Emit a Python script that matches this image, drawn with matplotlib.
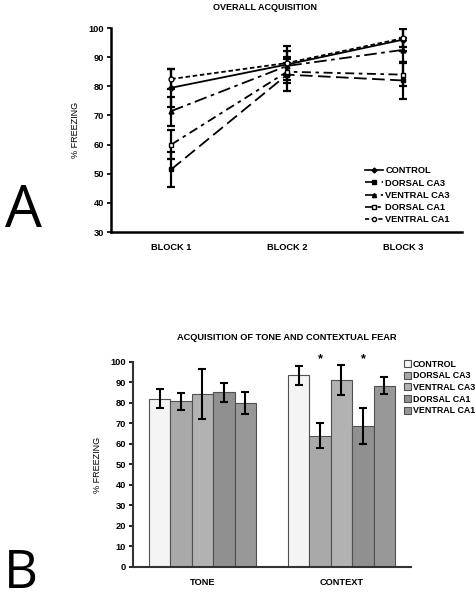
import matplotlib.pyplot as plt
from matplotlib.lines import Line2D
import numpy as np

plt.rcParams['font.family'] = ['Liberation Sans', 'DejaVu Sans']
plt.rcParams['font.weight'] = 'bold'

groups = ["CONTROL", "DORSAL CA3", "VENTRAL CA3", "DORSAL CA1", "VENTRAL CA1"]

# overall acquisition (blocks 1-3)
blocks = ["BLOCK 1", "BLOCK 2", "BLOCK 3"]
acq_mean = {
    "CONTROL":     [79.5, 87.5, 96.0],
    "DORSAL CA3":  [51.5, 84.0, 82.0],
    "VENTRAL CA3": [71.5, 87.0, 92.5],
    "DORSAL CA1":  [60.0, 85.0, 84.0],
    "VENTRAL CA1": [82.5, 88.0, 96.5],
}
acq_err = {
    "CONTROL":     [6.5, 6.5, 4.0],
    "DORSAL CA3":  [6.0, 5.5, 6.5],
    "VENTRAL CA3": [5.0, 3.0, 4.0],
    "DORSAL CA1":  [5.0, 3.0, 4.0],
    "VENTRAL CA1": [3.5, 4.0, 3.0],
}

# tone / context
conditions = ["TONE", "CONTEXT"]
fear_mean = {
    "CONTROL":     [82.0, 93.5],
    "DORSAL CA3":  [80.8, 64.0],
    "VENTRAL CA3": [84.3, 91.2],
    "DORSAL CA1":  [85.3, 68.7],
    "VENTRAL CA1": [79.8, 88.5],
}
fear_err = {
    "CONTROL":     [4.6, 4.5],
    "DORSAL CA3":  [4.2, 6.0],
    "VENTRAL CA3": [12.3, 7.2],
    "DORSAL CA1":  [4.6, 8.7],
    "VENTRAL CA1": [5.4, 4.0],
}
significant = {"DORSAL CA3": 1, "DORSAL CA1": 1}

styles = {
    "CONTROL":     dict(ls='-', marker='D', mfc='black', ms=3),
    "DORSAL CA3":  dict(ls=(0, (7, 3)), marker='s', mfc='black', ms=3.5),
    "VENTRAL CA3": dict(ls=(0, (7, 2.5, 2, 2.5)), marker='^', mfc='black', ms=3.5),
    "DORSAL CA1":  dict(ls=(0, (5, 2.5, 2, 2.5)), marker='s', mfc='white', ms=3.5),
    "VENTRAL CA1": dict(ls=(0, (2.5, 1.5)), marker='o', mfc='white', ms=3.5),
}
bar_colors = ['#f4f4f4', '#a9a9a9', '#b2b2b2', '#909090', '#989898']

fig = plt.figure(figsize=(4.77, 6.0), dpi=100)

# ---- A ----
ax1 = fig.add_axes([0.2327, 0.6133, 0.7359, 0.34])
x = np.arange(1, len(blocks) + 1)
handles = []
for g in groups:
    s = styles[g]
    ax1.errorbar(x, acq_mean[g], yerr=acq_err[g], color='black', lw=1.3,
                 ls=s['ls'], marker=s['marker'], mfc=s['mfc'], mec='black',
                 ms=s['ms'], ecolor='black', elinewidth=1.6, capsize=3,
                 capthick=1.6)
    handles.append(Line2D([], [], color='black', lw=1.2, ls=s['ls'],
                          marker=s['marker'], mfc=s['mfc'], mec='black',
                          ms=s['ms'] - 0.5, label=g))
ax1.set_xlim(0.48, 3.51)
ax1.set_ylim(30, 100)
ax1.set_yticks(range(30, 101, 10))
ax1.set_xticks(x)
ax1.set_xticklabels(blocks)
ax1.tick_params(axis='x', length=0, pad=8, labelsize=6.7)
ax1.tick_params(axis='y', length=3, width=1.2, pad=2, labelsize=6.7)
for sp in ['top', 'right']:
    ax1.spines[sp].set_visible(False)
for sp in ['left', 'bottom']:
    ax1.spines[sp].set_linewidth(1.8)
ax1.set_ylabel("% FREEZING", fontsize=6.5, labelpad=6)
fig.text(0.555, 0.987, "OVERALL ACQUISITION", ha='center', va='center',
         fontsize=6.5, weight='bold')
ax1.legend(handles=handles, loc='upper left', bbox_to_anchor=(0.71, 0.345),
           frameon=False, fontsize=6.7, handlelength=2.0,
           handletextpad=0.2, labelspacing=0.35, borderpad=0)
fig.text(0.01, 0.622, "A", fontsize=42, weight='normal',
         family='Open Sans', ha='left', va='baseline')

# ---- B ----
ax2 = fig.add_axes([0.2788, 0.055, 0.5828, 0.3417])
xc = np.arange(len(conditions))
w = 0.154
for i, g in enumerate(groups):
    pos = xc + (i - 2) * w
    ax2.bar(pos, fear_mean[g], w, color=bar_colors[i], edgecolor='#505050',
            lw=0.8, label=g, zorder=2)
    ax2.errorbar(pos, fear_mean[g], yerr=fear_err[g], fmt='none',
                 ecolor='black', elinewidth=1.5, capsize=3, capthick=1.5,
                 zorder=3)
    if g in significant:
        k = significant[g]
        ax2.text(pos[k], 101.5, "*", ha='center', va='center', fontsize=9,
                 clip_on=False)
ax2.set_xlim(-0.5, 1.5)
ax2.set_ylim(0, 100)
ax2.set_yticks(range(0, 101, 10))
ax2.set_xticks(xc)
ax2.set_xticklabels(conditions)
ax2.tick_params(axis='x', length=0, pad=8, labelsize=6.7)
ax2.tick_params(axis='y', length=3, width=1.2, pad=2, labelsize=6.7)
for sp in ['top', 'right']:
    ax2.spines[sp].set_visible(False)
for sp in ['left', 'bottom']:
    ax2.spines[sp].set_linewidth(1.5)
    ax2.spines[sp].set_color('#333333')
ax2.set_ylabel("% FREEZING", fontsize=6.5, labelpad=6)
fig.text(0.602, 0.437, "ACQUISITION OF TONE AND CONTEXTUAL FEAR",
         ha='center', va='center', fontsize=6.7, weight='bold')
h, l = ax2.get_legend_handles_labels()
fig.legend(h, l, loc='upper left', bbox_to_anchor=(0.838, 0.408),
           frameon=False, fontsize=6.4, handlelength=0.8, handleheight=0.8,
           handletextpad=0.2, labelspacing=0.3, borderpad=0)
fig.text(0.008, 0.02, "B", fontsize=38, weight='normal',
         family='Open Sans', ha='left', va='baseline')

fig.savefig("out.png", dpi=100)
